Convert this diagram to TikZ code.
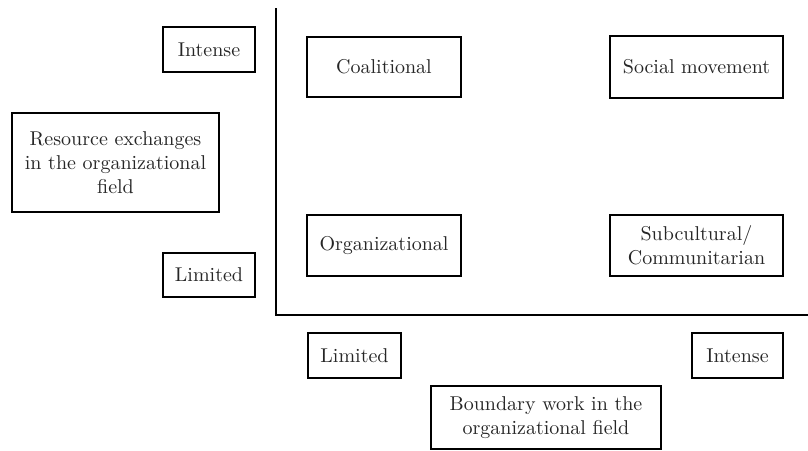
\documentclass[tikz,border=0pt]{standalone}
\usepackage{tikz}
\usetikzlibrary{positioning}

\tikzset{
  lblbox/.style={draw=black, line width=0.9pt, align=center, inner sep=2pt,
                 text=black!85, font=\normalsize},
}

\begin{document}
\begin{tikzpicture}[x=0.5pt, y=-0.5pt]
  \useasboundingbox (0,0) rectangle (808,450);

  % Define coordinates
  \coordinate (ytop)   at (276,8);   % top of vertical axis
  \coordinate (origin) at (276,315); % corner of the axes
  \coordinate (xend)   at (808,315); % end of horizontal axis

  % Draw axes
  \draw[line width=0.9pt] (ytop) -- (origin) -- (xend);

  % Vertical axis labels
  \node[lblbox, minimum width=46pt, minimum height=22.5pt] (intenseY) at (209,49.5) {Intense};
  \node[lblbox, minimum width=103.5pt, minimum height=49.5pt] (resource) at (115.5,162.5)
    {Resource exchanges\\in the organizational\\field};
  \node[lblbox, minimum width=46pt, minimum height=22pt] (limitedY) at (209,275) {Limited};

  % Quadrants
  \node[lblbox, minimum width=77pt, minimum height=30pt] (coalitional) at (384,67) {Coalitional};
  \node[lblbox, minimum width=86.5pt, minimum height=31pt] (socialmov) at (696.5,67) {Social movement};
  \node[lblbox, minimum width=77pt, minimum height=30.5pt] (organizational) at (384,245.5) {Organizational};
  \node[lblbox, minimum width=86.5pt, minimum height=30.5pt] (subcultural) at (696.5,245.5)
    {Subcultural/\\Communitarian};

  % Horizontal axis labels
  \node[lblbox, minimum width=46.5pt, minimum height=22.5pt] (limitedX) at (354.5,355.5) {Limited};
  \node[lblbox, minimum width=45.5pt, minimum height=22.5pt] (intenseX) at (737.5,355.5) {Intense};
  \node[lblbox, minimum width=115pt, minimum height=31.5pt] (boundary) at (546,417.5)
    {Boundary work in the\\organizational field};
\end{tikzpicture}
\end{document}
